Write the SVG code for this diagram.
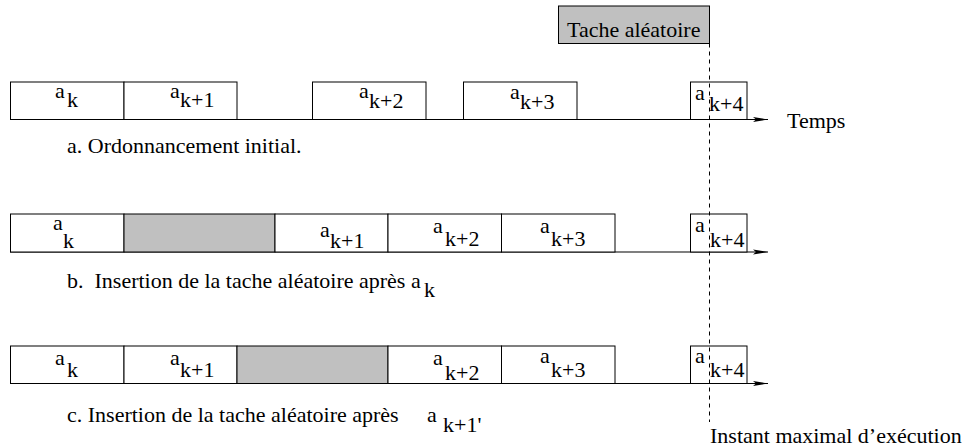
<svg xmlns="http://www.w3.org/2000/svg" width="973" height="448" viewBox="0 0 973 448" font-family="'Liberation Serif', 'Times New Roman', Times, serif">
<defs>
<marker id="arr" markerUnits="userSpaceOnUse" markerWidth="16" markerHeight="8" refX="15" refY="4" orient="auto">
<path d="M0,1.5 L15,4 L0,6.5 L3,4 Z" fill="#000"/>
</marker>
</defs>
<style>
.box{fill:#fff;stroke:#000;stroke-width:1}
.gray{fill:#c0c0c0;stroke:#000;stroke-width:1}
text{font-family:'Liberation Serif','Times New Roman',Times,serif;font-size:22px;fill:#000}
.axis{stroke:#000;stroke-width:1.2;fill:none}
.dash{stroke:#000;stroke-width:1;stroke-dasharray:4,4;fill:none}
</style>
<rect width="973" height="448" fill="#fff"/>
<g id="connectors">
<line class="axis" x1="10" y1="119.5" x2="768" y2="119.5" marker-end="url(#arr)"/>
<line class="axis" x1="10" y1="252" x2="768" y2="252" marker-end="url(#arr)"/>
<line class="axis" x1="10" y1="383.5" x2="768" y2="383.5" marker-end="url(#arr)"/>
</g>
<g id="tache-aleatoire">
<rect class="gray" x="558.5" y="6" width="151" height="37.5"/>
<text x="567" y="37">Tache aléatoire</text>
</g>
<g id="row-a">
<g id="a-ak"><rect class="box" x="10.5" y="82" width="113.5" height="37.5"/><text x="55" y="98">a</text><text x="67" y="107">k</text></g>
<g id="a-ak1"><rect class="box" x="124" y="82" width="113" height="37.5"/><text x="170" y="98">a</text><text x="180" y="107">k+1</text></g>
<g id="a-ak2"><rect class="box" x="312.5" y="82" width="113.5" height="37.5"/><text x="359" y="98">a</text><text x="369" y="108">k+2</text></g>
<g id="a-ak3"><rect class="box" x="463.5" y="82" width="113.5" height="37.5"/><text x="510" y="99">a</text><text x="520" y="109">k+3</text></g>
<g id="a-ak4"><rect class="box" x="690.5" y="82" width="56.5" height="37.5"/><text x="695" y="100">a</text><text x="709" y="111">k+4</text></g>
<text x="787" y="128">Temps</text>
<text x="67" y="153">a. Ordonnancement initial.</text>
</g>
<g id="row-b">
<g id="b-ak"><rect class="box" x="10.5" y="214" width="113.5" height="38"/><text x="53" y="230">a</text><text x="63" y="248">k</text></g>
<g id="b-task"><rect class="gray" x="124" y="214" width="151" height="38"/></g>
<g id="b-ak1"><rect class="box" x="275" y="214" width="113" height="38"/><text x="320" y="237">a</text><text x="330" y="248">k+1</text></g>
<g id="b-ak2"><rect class="box" x="388" y="214" width="113.5" height="38"/><text x="433" y="233">a</text><text x="445" y="246">k+2</text></g>
<g id="b-ak3"><rect class="box" x="501.5" y="214" width="113.5" height="38"/><text x="540" y="233">a</text><text x="551" y="246">k+3</text></g>
<g id="b-ak4"><rect class="box" x="690.5" y="214" width="56.5" height="38"/><text x="695" y="232">a</text><text x="710" y="247">k+4</text></g>
<text x="67" y="288" xml:space="preserve">b.  Insertion de la tache aléatoire après a</text>
<text x="424" y="297">k</text>
</g>
<g id="row-c">
<g id="c-ak"><rect class="box" x="10.5" y="346" width="113.5" height="37.5"/><text x="55" y="365">a</text><text x="67" y="377">k</text></g>
<g id="c-ak1"><rect class="box" x="124" y="346" width="113" height="37.5"/><text x="170" y="365">a</text><text x="180" y="377">k+1</text></g>
<g id="c-task"><rect class="gray" x="237" y="346" width="151" height="37.5"/></g>
<g id="c-ak2"><rect class="box" x="388" y="346" width="113.5" height="37.5"/><text x="433" y="365">a</text><text x="445" y="380">k+2</text></g>
<g id="c-ak3"><rect class="box" x="501.5" y="346" width="113.5" height="37.5"/><text x="540" y="363">a</text><text x="551" y="377">k+3</text></g>
<g id="c-ak4"><rect class="box" x="690.5" y="346" width="56.5" height="37.5"/><text x="695" y="363">a</text><text x="710" y="377">k+4</text></g>
<text x="67" y="422">c. Insertion de la tache aléatoire après</text>
<text x="427" y="422">a</text>
<text x="443" y="432">k+1'</text>
</g>
<g id="deadline">
<line class="dash" x1="709.5" y1="43.5" x2="709.5" y2="422"/>
<text x="710" y="443">Instant maximal d’exécution</text>
</g>
</svg>
